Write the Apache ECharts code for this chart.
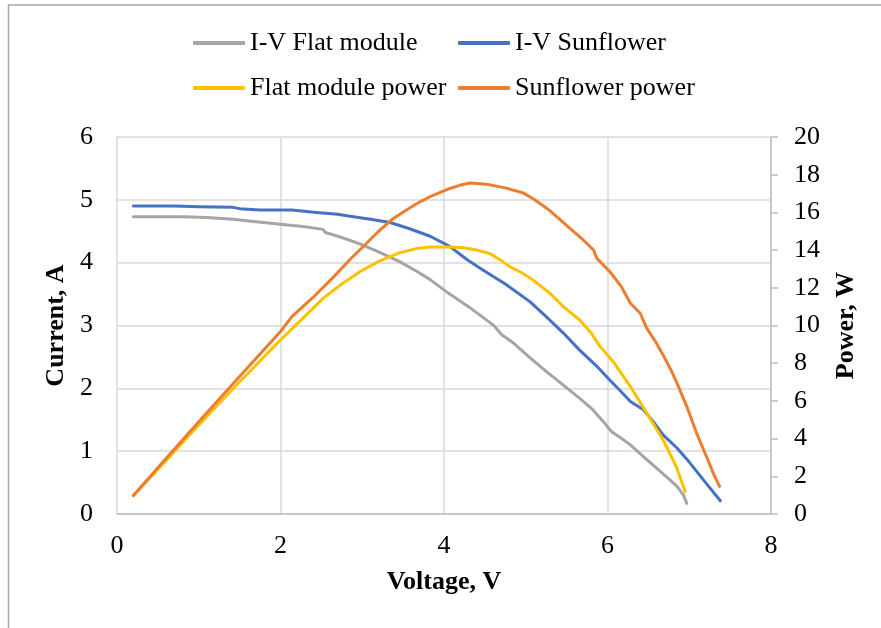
<!DOCTYPE html>
<html>
<head>
<meta charset="utf-8">
<script src="https://cdn.jsdelivr.net/npm/echarts@6/dist/echarts.min.js"></script>
<style>html,body{margin:0;padding:0;background:#fff}#c{width:881px;height:628px}</style>
</head>
<body>
<div id="c"></div>
<script>
// Series names
const seriesNames = ['I-V Flat module', 'I-V Sunflower', 'Flat module power', 'Sunflower power'];

// I-V Flat module (V, A)
const flatIV_V = [0.20,0.50,0.81,1.10,1.42,1.70,2.00,2.30,2.52,2.55,2.75,2.97,3.20,3.45,3.67,3.83,4.07,4.30,4.60,4.71,4.85,5.05,5.25,5.46,5.66,5.82,5.95,6.05,6.15,6.28,6.45,6.60,6.75,6.85,6.93,6.97];
const flatIV_I = [4.73,4.73,4.73,4.72,4.69,4.65,4.61,4.57,4.53,4.48,4.40,4.30,4.17,4.02,3.86,3.73,3.50,3.30,3.01,2.85,2.72,2.49,2.27,2.05,1.84,1.66,1.47,1.31,1.22,1.10,0.90,0.73,0.56,0.44,0.30,0.17];

// I-V Sunflower (V, A)
const sunIV_V = [0.20,0.70,1.00,1.42,1.50,1.75,2.14,2.15,2.44,2.70,2.89,3.10,3.34,3.58,3.83,4.07,4.28,4.48,4.75,5.05,5.25,5.46,5.65,5.87,6.03,6.15,6.28,6.44,6.56,6.68,6.85,7.01,7.20,7.38];
const sunIV_I = [4.90,4.90,4.89,4.88,4.86,4.84,4.84,4.87,4.80,4.77,4.73,4.69,4.64,4.54,4.42,4.26,4.05,3.88,3.66,3.38,3.14,2.88,2.62,2.35,2.13,1.97,1.79,1.66,1.47,1.26,1.05,0.81,0.50,0.21];

// Flat module power (V, W)
const flatP_V = [0.20,0.60,1.00,1.50,2.00,2.30,2.52,2.75,2.97,3.20,3.45,3.67,3.83,4.07,4.24,4.40,4.56,4.70,4.81,4.95,5.09,5.30,5.46,5.66,5.80,5.91,6.07,6.28,6.48,6.68,6.84,6.95];
const flatP_W = [0.97,2.84,4.72,7.02,9.23,10.5,11.44,12.2,12.85,13.4,13.85,14.09,14.17,14.17,14.12,14.0,13.82,13.45,13.11,12.8,12.41,11.7,11.0,10.29,9.6,8.88,8.08,6.76,5.35,3.94,2.52,1.20];

// Sunflower power (V, W)
const sunP_V = [0.20,0.60,1.00,1.50,2.00,2.14,2.40,2.65,2.85,3.05,3.20,3.38,3.55,3.67,3.83,4.07,4.20,4.32,4.52,4.75,4.97,5.10,5.26,5.40,5.54,5.70,5.83,5.87,6.03,6.17,6.28,6.40,6.48,6.58,6.68,6.78,6.85,6.97,7.09,7.21,7.30,7.37];
const sunP_W = [0.98,2.94,4.89,7.29,9.68,10.47,11.5,12.58,13.5,14.35,15.0,15.68,16.15,16.47,16.84,17.27,17.45,17.56,17.49,17.30,17.03,16.7,16.21,15.7,15.15,14.55,14.0,13.56,12.85,12.06,11.18,10.65,9.85,9.2,8.44,7.6,6.94,5.70,4.29,3.05,2.1,1.46];

// Axis ticks
const xTicks = [0, 2, 4, 6, 8];
const leftTicks = [0, 1, 2, 3, 4, 5, 6];
const rightTicks = [0, 2, 4, 6, 8, 10, 12, 14, 16, 18, 20];

const colors = ['#a5a5a5', '#4472c4', '#ffc000', '#ed7d31'];
const zip = (a, b) => a.map((v, i) => [v, b[i]]);
const FONT = 'Liberation Serif';

const chart = echarts.init(document.getElementById('c'));
const legendBase = {
  orient: 'horizontal', padding: 0, itemWidth: 52, itemHeight: 4, icon: 'roundRect',
  textStyle: { fontFamily: FONT, fontSize: 26, color: '#000' }
};
chart.setOption({
  animation: false,
  backgroundColor: '#fff',
  color: colors,
  graphic: [{
    type: 'rect', shape: { x: 8.5, y: 5, width: 1000, height: 1000 },
    style: { fill: 'none', stroke: '#a6a6a6', lineWidth: 1.5 }, silent: true
  }],
  legend: [
    Object.assign({}, legendBase, { data: [seriesNames[0]], left: 193, top: 30 }),
    Object.assign({}, legendBase, { data: [seriesNames[1]], left: 458, top: 30 }),
    Object.assign({}, legendBase, { data: [seriesNames[2]], left: 193, top: 75 }),
    Object.assign({}, legendBase, { data: [seriesNames[3]], left: 458, top: 75 })
  ],
  grid: { left: 117, right: 110, top: 137, bottom: 114, containLabel: false },
  xAxis: {
    type: 'value', min: xTicks[0], max: xTicks[xTicks.length - 1], interval: 2,
    name: 'Voltage, V', nameLocation: 'middle', nameGap: 55,
    nameTextStyle: { fontFamily: FONT, fontSize: 26, fontWeight: 'bold', color: '#000' },
    axisLine: { show: true, lineStyle: { color: '#bfbfbf', width: 1.5 } },
    axisTick: { show: false },
    axisLabel: { fontFamily: FONT, fontSize: 26, color: '#000', margin: 19 },
    splitLine: { show: true, lineStyle: { color: '#d9d9d9', width: 1.5 } }
  },
  yAxis: [{
    type: 'value', min: leftTicks[0], max: leftTicks[leftTicks.length - 1], interval: 1,
    name: 'Current, A', nameLocation: 'middle', nameGap: 47, nameRotate: 90,
    nameTextStyle: { fontFamily: FONT, fontSize: 26, fontWeight: 'bold', color: '#000' },
    axisLine: { show: false }, axisTick: { show: false },
    axisLabel: { fontFamily: FONT, fontSize: 26, color: '#000', margin: 24 },
    splitLine: { show: true, lineStyle: { color: '#d9d9d9', width: 1.5 } }
  }, {
    type: 'value', position: 'right', min: rightTicks[0], max: rightTicks[rightTicks.length - 1], interval: 2,
    name: 'Power, W', nameLocation: 'middle', nameGap: 62, nameRotate: 90,
    nameTextStyle: { fontFamily: FONT, fontSize: 26, fontWeight: 'bold', color: '#000' },
    axisLine: { show: true, lineStyle: { color: '#bfbfbf', width: 1.5 } },
    axisTick: { show: true, length: 7, lineStyle: { color: '#bfbfbf', width: 1.5 } },
    axisLabel: { fontFamily: FONT, fontSize: 26, color: '#000', margin: 23 },
    splitLine: { show: false }
  }],
  series: [
    { name: seriesNames[0], type: 'line', yAxisIndex: 0, data: zip(flatIV_V, flatIV_I) },
    { name: seriesNames[1], type: 'line', yAxisIndex: 0, data: zip(sunIV_V, sunIV_I) },
    { name: seriesNames[2], type: 'line', yAxisIndex: 1, data: zip(flatP_V, flatP_W) },
    { name: seriesNames[3], type: 'line', yAxisIndex: 1, data: zip(sunP_V, sunP_W) }
  ].map((s, i) => Object.assign(s, {
    showSymbol: false, symbol: 'none',
    lineStyle: { width: 3, color: colors[i], cap: 'round', join: 'round' },
    itemStyle: { color: colors[i] }
  }))
});
</script>
</body>
</html>
